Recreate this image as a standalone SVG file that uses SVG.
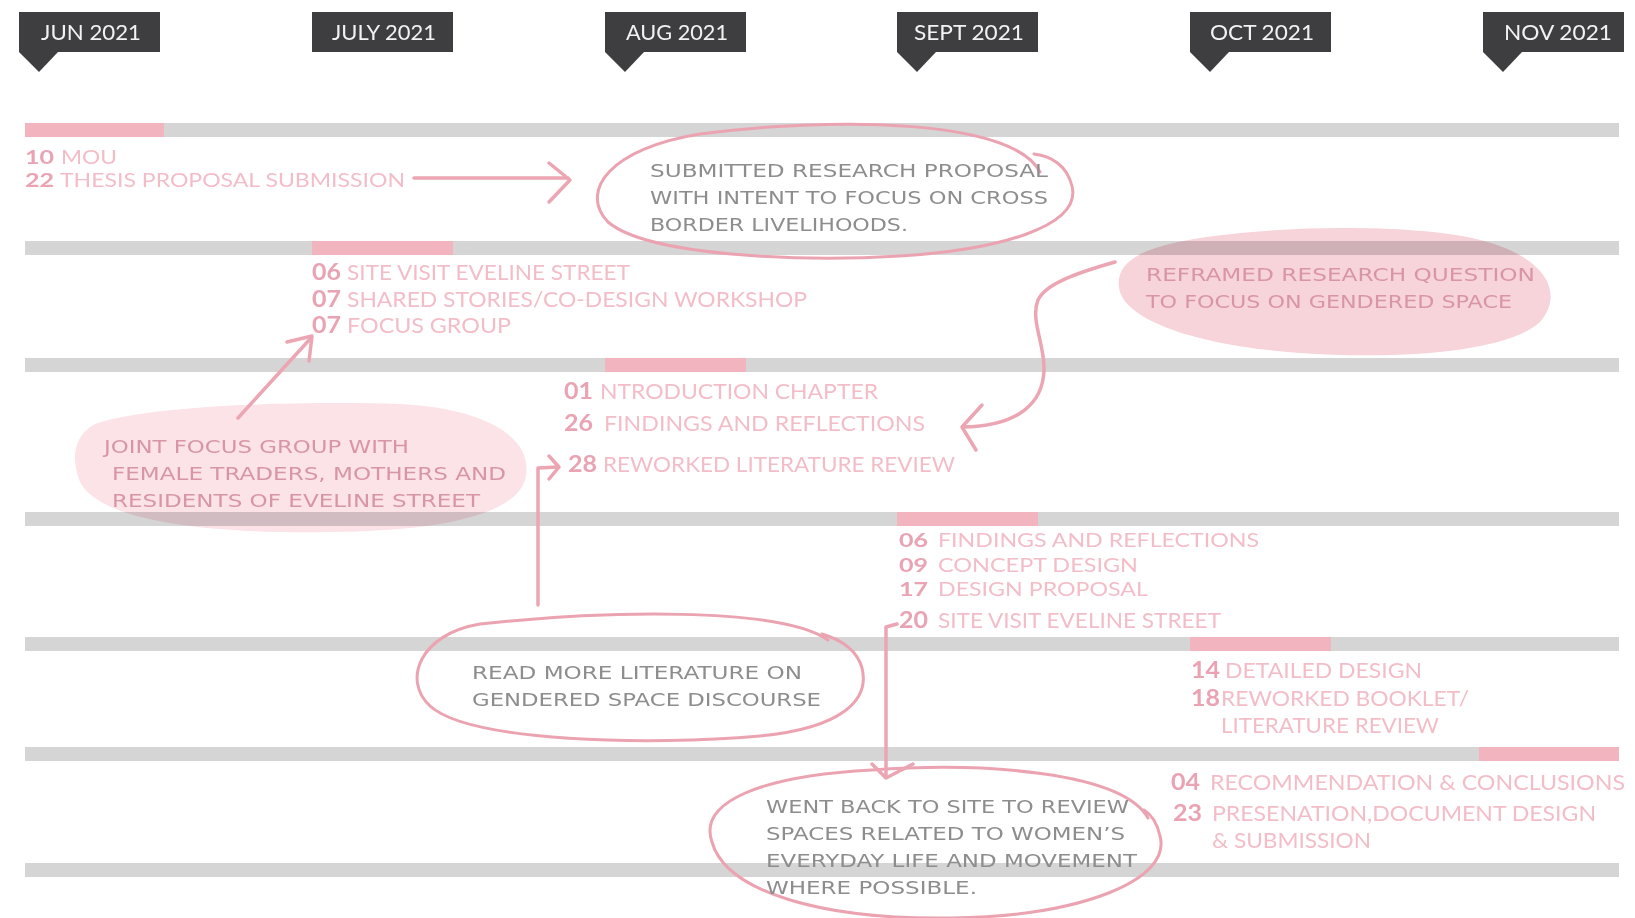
<svg xmlns="http://www.w3.org/2000/svg" width="1635" height="918" viewBox="0 0 1635 918">
<style>
.bar{fill:#d5d5d5}
.hl{fill:#f2b5c0}
.mbox{fill:#3e3e40}
.mtxt{fill:#f2f2f2;font-family:Lato,"Noto Sans",sans-serif;font-size:21px;text-anchor:middle}
.num{fill:#e9a3b3;font-family:Lato,"Noto Sans",sans-serif;font-size:22px;font-weight:bold}
.lbl{fill:#f3bdc8;font-family:Lato,"Noto Sans",sans-serif;font-size:22px}
.tight{font-size:19px}
.hand{fill:#8d8d8d;font-family:"DejaVu Sans","Noto Sans",sans-serif;font-size:17px}
.handp{fill:#d896a5;font-family:"DejaVu Sans","Noto Sans",sans-serif;font-size:17px}
.loop{fill:none;stroke:#eba3b1;stroke-width:3;stroke-linecap:round}
.con{fill:none;stroke:#eca5b3;stroke-width:3.5;stroke-linecap:round;stroke-linejoin:round}
.blob1{fill:#f7d3da;mix-blend-mode:multiply}
.blob2{fill:#fbe3e7;mix-blend-mode:multiply}
</style>
<rect width="1635" height="918" fill="#ffffff"/>

<g id="months">
  <g id="m-jun"><rect class="mbox" x="19" y="12" width="141" height="40"/><path class="mbox" d="M19,52 L58,52 L39,72 Z"/><text class="mtxt" x="91" y="40" textLength="100" lengthAdjust="spacingAndGlyphs">JUN 2021</text></g>
  <g id="m-jul"><rect class="mbox" x="312" y="12" width="141" height="40"/><text class="mtxt" x="384" y="40" textLength="104" lengthAdjust="spacingAndGlyphs">JULY 2021</text></g>
  <g id="m-aug"><rect class="mbox" x="605" y="12" width="141" height="40"/><path class="mbox" d="M605,52 L644,52 L625,72 Z"/><text class="mtxt" x="677" y="40" textLength="102" lengthAdjust="spacingAndGlyphs">AUG 2021</text></g>
  <g id="m-sep"><rect class="mbox" x="897" y="12" width="141" height="40"/><path class="mbox" d="M897,52 L936,52 L917,72 Z"/><text class="mtxt" x="969" y="40" textLength="110" lengthAdjust="spacingAndGlyphs">SEPT 2021</text></g>
  <g id="m-oct"><rect class="mbox" x="1190" y="12" width="141" height="40"/><path class="mbox" d="M1190,52 L1229,52 L1210,72 Z"/><text class="mtxt" x="1262" y="40" textLength="104" lengthAdjust="spacingAndGlyphs">OCT 2021</text></g>
  <g id="m-nov"><rect class="mbox" x="1483" y="12" width="141" height="40"/><path class="mbox" d="M1483,52 L1522,52 L1503,72 Z"/><text class="mtxt" x="1558" y="40" textLength="108" lengthAdjust="spacingAndGlyphs">NOV 2021</text></g>
</g>

<g id="bars">
  <rect class="bar" x="25" y="123" width="1594" height="14"/><rect class="hl" x="25" y="123" width="139" height="14"/>
  <rect class="bar" x="25" y="241" width="1594" height="14"/><rect class="hl" x="312" y="241" width="141" height="14"/>
  <rect class="bar" x="25" y="358" width="1594" height="14"/><rect class="hl" x="605" y="358" width="141" height="14"/>
  <rect class="bar" x="25" y="512" width="1594" height="14"/><rect class="hl" x="897" y="512" width="141" height="14"/>
  <rect class="bar" x="25" y="637" width="1594" height="14"/><rect class="hl" x="1190" y="637" width="141" height="14"/>
  <rect class="bar" x="25" y="747" width="1594" height="14"/><rect class="hl" x="1479" y="747" width="140" height="14"/>
  <rect class="bar" x="25" y="863" width="1594" height="14"/>
</g>

<g id="jun-items">
  <text class="num tight" x="25" y="164" textLength="29" lengthAdjust="spacingAndGlyphs">10</text>
  <text class="lbl tight" x="61" y="164" textLength="56" lengthAdjust="spacingAndGlyphs">MOU</text>
  <text class="num tight" x="25" y="187" textLength="29" lengthAdjust="spacingAndGlyphs">22</text>
  <text class="lbl tight" x="60" y="187" textLength="345" lengthAdjust="spacingAndGlyphs">THESIS PROPOSAL SUBMISSION</text>
</g>

<g id="jul-items">
  <text class="num" x="312" y="280" textLength="29" lengthAdjust="spacingAndGlyphs">06</text>
  <text class="lbl" x="347" y="280" textLength="283" lengthAdjust="spacingAndGlyphs">SITE VISIT EVELINE STREET</text>
  <text class="num" x="312" y="307" textLength="29" lengthAdjust="spacingAndGlyphs">07</text>
  <text class="lbl" x="347" y="307" textLength="460" lengthAdjust="spacingAndGlyphs">SHARED STORIES/CO-DESIGN WORKSHOP</text>
  <text class="num" x="312" y="333" textLength="29" lengthAdjust="spacingAndGlyphs">07</text>
  <text class="lbl" x="347" y="333" textLength="164" lengthAdjust="spacingAndGlyphs">FOCUS GROUP</text>
</g>

<g id="aug-items">
  <text class="num" x="564" y="399" textLength="29" lengthAdjust="spacingAndGlyphs">01</text>
  <text class="lbl" x="600" y="399" textLength="278" lengthAdjust="spacingAndGlyphs">NTRODUCTION CHAPTER</text>
  <text class="num" x="564" y="431" textLength="29" lengthAdjust="spacingAndGlyphs">26</text>
  <text class="lbl" x="604" y="431" textLength="321" lengthAdjust="spacingAndGlyphs">FINDINGS AND REFLECTIONS</text>
  <text class="num" x="568" y="472" textLength="29" lengthAdjust="spacingAndGlyphs">28</text>
  <text class="lbl" x="603" y="472" textLength="352" lengthAdjust="spacingAndGlyphs">REWORKED LITERATURE REVIEW</text>
</g>

<g id="sep-items">
  <text class="num tight" x="899" y="547" textLength="29" lengthAdjust="spacingAndGlyphs">06</text>
  <text class="lbl tight" x="938" y="547" textLength="321" lengthAdjust="spacingAndGlyphs">FINDINGS AND REFLECTIONS</text>
  <text class="num tight" x="899" y="572" textLength="29" lengthAdjust="spacingAndGlyphs">09</text>
  <text class="lbl tight" x="938" y="572" textLength="200" lengthAdjust="spacingAndGlyphs">CONCEPT DESIGN</text>
  <text class="num tight" x="899" y="596" textLength="29" lengthAdjust="spacingAndGlyphs">17</text>
  <text class="lbl tight" x="938" y="596" textLength="210" lengthAdjust="spacingAndGlyphs">DESIGN PROPOSAL</text>
  <text class="num" x="899" y="628" textLength="29" lengthAdjust="spacingAndGlyphs">20</text>
  <text class="lbl" x="938" y="628" textLength="283" lengthAdjust="spacingAndGlyphs">SITE VISIT EVELINE STREET</text>
</g>

<g id="oct-items">
  <text class="num" x="1191" y="678" textLength="29" lengthAdjust="spacingAndGlyphs">14</text>
  <text class="lbl" x="1225" y="678" textLength="197" lengthAdjust="spacingAndGlyphs">DETAILED DESIGN</text>
  <text class="num" x="1191" y="706" textLength="29" lengthAdjust="spacingAndGlyphs">18</text>
  <text class="lbl" x="1221" y="706" textLength="248" lengthAdjust="spacingAndGlyphs">REWORKED BOOKLET/</text>
  <text class="lbl" x="1221" y="733" textLength="218" lengthAdjust="spacingAndGlyphs">LITERATURE REVIEW</text>
</g>

<g id="nov-items">
  <text class="num" x="1171" y="790" textLength="29" lengthAdjust="spacingAndGlyphs">04</text>
  <text class="lbl" x="1210" y="790" textLength="415" lengthAdjust="spacingAndGlyphs">RECOMMENDATION &amp; CONCLUSIONS</text>
  <text class="num" x="1173" y="821" textLength="29" lengthAdjust="spacingAndGlyphs">23</text>
  <text class="lbl" x="1212" y="821" textLength="384" lengthAdjust="spacingAndGlyphs">PRESENATION,DOCUMENT DESIGN</text>
  <text class="lbl" x="1212" y="848" textLength="159" lengthAdjust="spacingAndGlyphs">&amp; SUBMISSION</text>
</g>

<g id="note-reframed">
  <path class="blob1" d="M1150,250 C1205,228 1385,220 1472,238 C1545,254 1566,292 1540,322 C1508,352 1400,360 1300,353 C1200,346 1130,322 1120,292 C1114,272 1128,258 1150,250 Z"/>
  <text class="handp" x="1146" y="281" textLength="389" lengthAdjust="spacingAndGlyphs">REFRAMED RESEARCH QUESTION</text>
  <text class="handp" x="1146" y="308" textLength="366" lengthAdjust="spacingAndGlyphs">TO FOCUS ON GENDERED SPACE</text>
</g>

<g id="note-joint">
  <path class="blob2" d="M95,424 C150,405 300,401 400,404 C492,409 532,440 526,476 C520,512 450,531 330,532 C200,534 100,520 80,482 C70,456 75,435 95,424 Z"/>
  <text class="handp" x="104" y="453" textLength="305" lengthAdjust="spacingAndGlyphs">JOINT FOCUS GROUP WITH</text>
  <text class="handp" x="112" y="480" textLength="394" lengthAdjust="spacingAndGlyphs">FEMALE TRADERS, MOTHERS AND</text>
  <text class="handp" x="112" y="507" textLength="368" lengthAdjust="spacingAndGlyphs">RESIDENTS OF EVELINE STREET</text>
</g>

<g id="note-submitted">
  <path class="loop" d="M1040,172 C1012,118 830,117 700,134 C612,148 578,190 608,222 C648,256 800,262 900,256 C1000,250 1082,226 1072,186 C1067,166 1052,156 1034,154"/>
  <text class="hand" x="650" y="177" textLength="398" lengthAdjust="spacingAndGlyphs">SUBMITTED RESEARCH PROPOSAL</text>
  <text class="hand" x="650" y="204" textLength="398" lengthAdjust="spacingAndGlyphs">WITH INTENT TO FOCUS ON CROSS</text>
  <text class="hand" x="650" y="231" textLength="258" lengthAdjust="spacingAndGlyphs">BORDER LIVELIHOODS.</text>
</g>

<g id="note-readmore">
  <path class="loop" d="M828,640 C780,606 600,611 480,624 C420,634 402,680 430,706 C470,742 650,746 760,736 C842,728 870,700 862,668 C857,650 842,640 822,634"/>
  <text class="hand" x="472" y="679" textLength="330" lengthAdjust="spacingAndGlyphs">READ MORE LITERATURE ON</text>
  <text class="hand" x="472" y="706" textLength="349" lengthAdjust="spacingAndGlyphs">GENDERED SPACE DISCOURSE</text>
</g>

<g id="note-wentback">
  <path class="loop" d="M1148,818 C1122,772 985,762 872,770 C760,776 698,802 712,842 C726,892 822,920 952,918 C1082,916 1172,880 1160,836 C1157,822 1152,815 1144,810"/>
  <text class="hand" x="766" y="813" textLength="363" lengthAdjust="spacingAndGlyphs">WENT BACK TO SITE TO REVIEW</text>
  <text class="hand" x="766" y="840" textLength="359" lengthAdjust="spacingAndGlyphs">SPACES RELATED TO WOMEN’S</text>
  <text class="hand" x="766" y="867" textLength="371" lengthAdjust="spacingAndGlyphs">EVERYDAY LIFE AND MOVEMENT</text>
  <text class="hand" x="766" y="894" textLength="211" lengthAdjust="spacingAndGlyphs">WHERE POSSIBLE.</text>
</g>

<g id="connectors">
  <path class="con" d="M414,178 L568,178"/>
  <path class="con" d="M549,163 L570,180 L549,202"/>
  <path class="con" d="M1115,262 C1080,272 1046,283 1038,300 C1030,320 1045,345 1044,370 C1043,402 1020,426 963,427"/>
  <path class="con" d="M982,405 L962,427 L976,450"/>
  <path class="con" d="M238,418 L311,338"/>
  <path class="con" d="M287,342 L312,336 L309,361"/>
  <path class="con" d="M538,605 L538,468 L558,467"/>
  <path class="con" d="M549,456 L559,467 L549,479"/>
  <path class="con" d="M897,624 L886,627 L886,777"/>
  <path class="con" d="M872,764 L886,778 L913,764"/>
</g>
</svg>
